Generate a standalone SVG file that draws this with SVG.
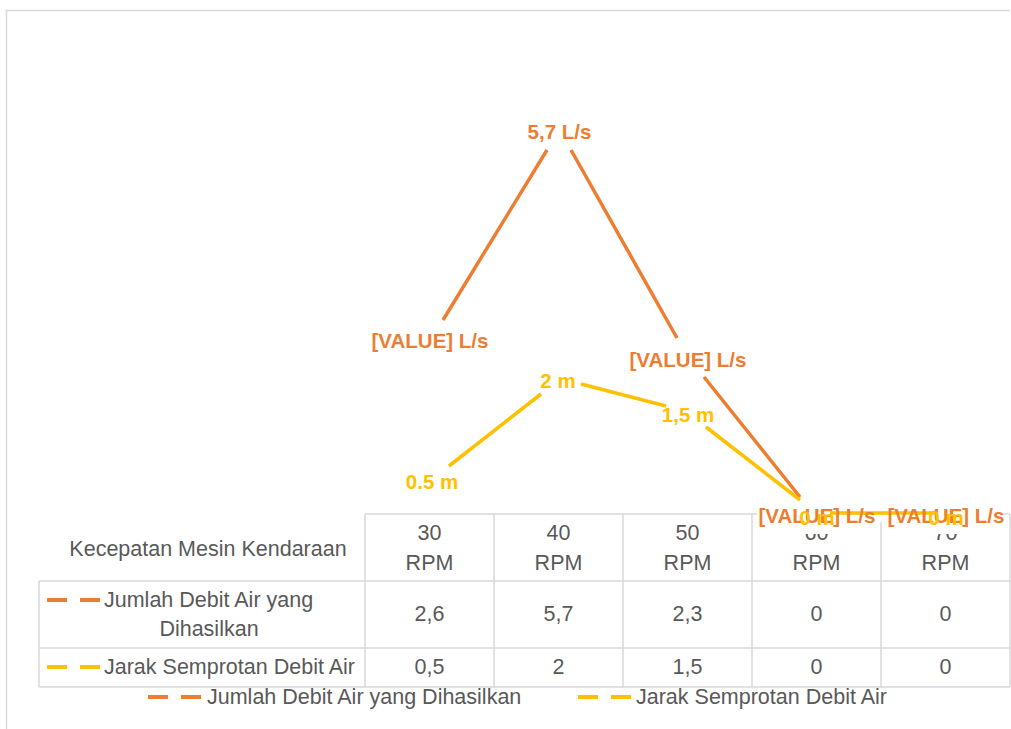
<svg xmlns="http://www.w3.org/2000/svg" width="1011" height="729" viewBox="0 0 1011 729">
<style>
.grid{stroke:#D9D9D9;stroke-width:1.5;fill:none}
.tt{font-family:"Liberation Sans",Arial,sans-serif;font-size:21.5px;fill:#595959;text-anchor:middle}
.tl{font-family:"Liberation Sans",Arial,sans-serif;font-size:21.5px;fill:#595959}
.lo{font-family:"Liberation Sans",Arial,sans-serif;font-size:20.5px;font-weight:bold;fill:#ED7D31;text-anchor:middle}
.ly{font-family:"Liberation Sans",Arial,sans-serif;font-size:20.5px;font-weight:bold;fill:#FFC000;text-anchor:middle}
.so{stroke:#ED7D31;stroke-width:3.5;fill:none}
.sy{stroke:#FFC000;stroke-width:3.5;fill:none}
.ko{stroke:#ED7D31;stroke-width:4;stroke-dasharray:20 13}
.ky{stroke:#FFC000;stroke-width:4;stroke-dasharray:20 13}
</style>
<rect width="1011" height="729" fill="#FFFFFF"/>
<path class="grid" d="M6.5 729V10.5H1010"/>
<g id="table">
<path class="grid" d="M365 514H1010M39 581H1010M39 648H1010M39 687H1010M39 581V687M365 514V687M494 514V687M623 514V687M752 514V687M881 514V687M1010 514V687"/>
<text class="tt" x="208" y="556">Kecepatan Mesin Kendaraan</text>
<g id="col-headers">
<text class="tt" x="429.5" y="540">30</text><text class="tt" x="429.5" y="570">RPM</text>
<text class="tt" x="558.5" y="540">40</text><text class="tt" x="558.5" y="570">RPM</text>
<text class="tt" x="687.5" y="540">50</text><text class="tt" x="687.5" y="570">RPM</text>
<text class="tt" x="816.5" y="540">60</text><text class="tt" x="816.5" y="570">RPM</text>
<text class="tt" x="945.5" y="540">70</text><text class="tt" x="945.5" y="570">RPM</text>
</g>
<g id="row-debit">
<line class="ko" x1="47" y1="600" x2="100" y2="600"/>
<text class="tl" x="104" y="607">Jumlah Debit Air yang</text>
<text class="tt" x="209" y="636">Dihasilkan</text>
<text class="tt" x="429.5" y="621">2,6</text>
<text class="tt" x="558.5" y="621">5,7</text>
<text class="tt" x="687.5" y="621">2,3</text>
<text class="tt" x="816.5" y="621">0</text>
<text class="tt" x="945.5" y="621">0</text>
</g>
<g id="row-jarak">
<line class="ky" x1="47" y1="667" x2="100" y2="667"/>
<text class="tl" x="104" y="674">Jarak Semprotan Debit Air</text>
<text class="tt" x="429.5" y="674">0,5</text>
<text class="tt" x="558.5" y="674">2</text>
<text class="tt" x="687.5" y="674">1,5</text>
<text class="tt" x="816.5" y="674">0</text>
<text class="tt" x="945.5" y="674">0</text>
</g>
</g>
<rect x="757" y="505" width="246" height="17" fill="#FFFFFF"/>
<rect x="795" y="505" width="43" height="29" fill="#FFFFFF"/>
<rect x="924" y="505" width="43" height="29" fill="#FFFFFF"/>
<g id="connectors">
<path class="so" d="M443 320L547 150M571 150L677 338M704 377L800 497"/>
<path class="sy" d="M449 466L541 394M581 384L666 406M706 427L800 500M830 513H935"/>
</g>
<g id="labels-debit">
<text class="lo" x="559.5" y="139">5,7 L/s</text>
<text class="lo" x="430" y="348">[VALUE] L/s</text>
<text class="lo" x="688" y="367">[VALUE] L/s</text>
<text class="lo" x="817" y="523">[VALUE] L/s</text>
<text class="lo" x="946" y="523">[VALUE] L/s</text>
</g>
<g id="labels-jarak">
<text class="ly" x="432" y="489">0.5 m</text>
<text class="ly" x="558" y="388">2 m</text>
<text class="ly" x="688" y="422">1,5 m</text>
<text class="ly" x="817" y="525">0 m</text>
<text class="ly" x="946" y="525">0 m</text>
</g>
<g id="legend">
<line class="ko" x1="148" y1="697" x2="202" y2="697"/>
<text class="tl" x="207" y="704">Jumlah Debit Air yang Dihasilkan</text>
<line class="ky" x1="578" y1="697" x2="632" y2="697"/>
<text class="tl" x="636" y="704">Jarak Semprotan Debit Air</text>
</g>
</svg>
